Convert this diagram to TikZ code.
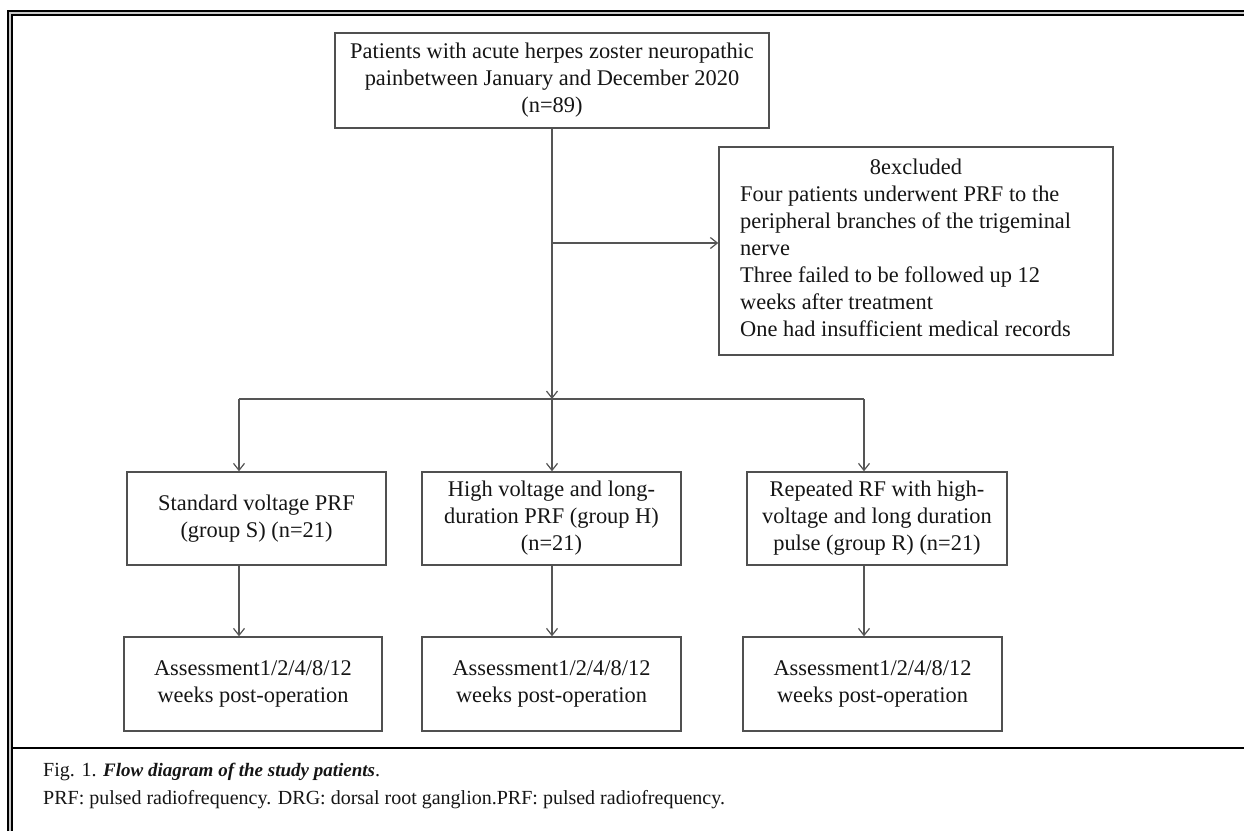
\documentclass[tikz,border=0pt]{standalone}
\usepackage{fontspec}
\setmainfont{Liberation Serif}
\usetikzlibrary{arrows.meta}
\definecolor{boxgray}{HTML}{505050}
\definecolor{linegray}{HTML}{555555}
\definecolor{textcol}{HTML}{151515}
\definecolor{framegap}{HTML}{C8C8C8}
\begin{document}
\begin{tikzpicture}[x=1pt,y=-1pt,
  box/.style={draw=boxgray, line width=1.4pt, inner sep=0pt, align=center,
    font=\fontsize{22.4}{27}\selectfont, text=textcol},
  txt/.style={inner sep=0pt, font=\fontsize{22.4}{27}\selectfont, text=textcol},
  conn/.style={draw=linegray, line width=1.4pt},
  arr/.style={conn, -{Straight Barb[length=7pt,width=11pt,line width=1.2pt]}},
  captxt/.style={anchor=west, inner sep=0pt, font=\fontsize{20}{24}\selectfont, text=textcol}]
\useasboundingbox (0,0) rectangle (1244,831);
\fill[white] (0,0) rectangle (1244,831);
% frame
\draw[black, line width=5.6pt, line join=miter] (10.1,831) -- (10.1,13) -- (1244,13);
\draw[framegap, line width=1.8pt, line join=miter] (10.1,831) -- (10.1,13) -- (1244,13);
\draw[black, line width=1.5pt] (12.9,748) -- (1244,748);
% boxes
\node[box, minimum width=434pt, minimum height=95pt] (top) at (552,80.5)
  {Patients with acute herpes zoster neuropathic\\painbetween January and December 2020\\(n=89)};
\node[box, minimum width=394pt, minimum height=208pt] (ex) at (916,251) {};
\node[txt] (exhead) at (916,167) {8excluded};
\node[txt, anchor=north west, align=left] (exbody) at (740,186)
  {Four patients underwent PRF to the\\
   peripheral branches of the trigeminal\\
   nerve\\
   Three failed to be followed up 12\\
   weeks after treatment\\
   One had insufficient medical records};
\node[box, minimum width=259pt, minimum height=93pt] (S) at (256.5,518.5)
  {Standard voltage PRF\\(group S) (n=21)};
\node[box, minimum width=259pt, minimum height=93pt] (H) at (551.5,518.5)
  {High voltage and long-\\duration PRF (group H)\\(n=21)};
\node[box, minimum width=260pt, minimum height=93pt] (R) at (877,518.5)
  {Repeated RF with high-\\voltage and long duration\\pulse (group R) (n=21)};
\node[box, minimum width=258pt, minimum height=94pt] (SA) at (253,684)
  {Assessment1/2/4/8/12\\weeks post-operation};
\node[box, minimum width=259pt, minimum height=94pt] (HA) at (551.5,684)
  {Assessment1/2/4/8/12\\weeks post-operation};
\node[box, minimum width=259pt, minimum height=94pt] (RA) at (872.5,684)
  {Assessment1/2/4/8/12\\weeks post-operation};
% connectors
\coordinate (bm) at (552,399);
\coordinate (bl) at (239,399);
\coordinate (brr) at (864,399);
\coordinate (ej) at (552,243);
\draw[arr] (top.south -| bm) -- (bm);
\draw[arr] (ej) -- (ej -| ex.west);
\draw[conn] (bl) -- (brr);
\draw[arr] (bl) -- (bl |- S.north);
\draw[arr] (bm) -- (bm |- H.north);
\draw[arr] (brr) -- (brr |- R.north);
\draw[arr] (bl |- S.south) -- (bl |- SA.north);
\draw[arr] (bm |- H.south) -- (bm |- HA.north);
\draw[arr] (brr |- R.south) -- (brr |- RA.north);
% caption
\node[captxt] (cap1) at (43,772) {Fig. 1. {\fontsize{19}{24}\selectfont\textbf{\textit{Flow diagram of the study patients}}}.};
\node[captxt] (cap2) at (43,800) {PRF: pulsed radiofrequency. DRG: dorsal root ganglion.PRF: pulsed radiofrequency.};
\end{tikzpicture}
\end{document}
